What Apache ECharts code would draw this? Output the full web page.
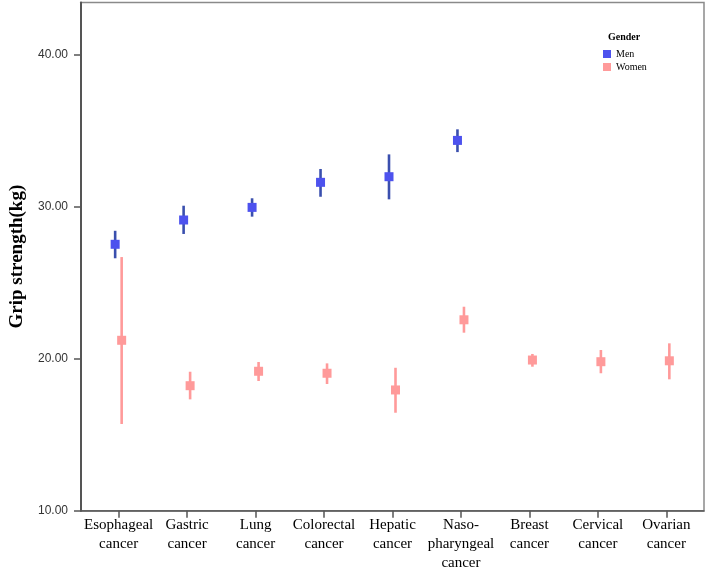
<!DOCTYPE html>
<html>
<head>
<meta charset="utf-8">
<script src="https://cdn.jsdelivr.net/npm/echarts@6/dist/echarts.min.js"></script>
<style>html,body{margin:0;padding:0;background:#fff}#c{width:709px;height:576px}</style>
</head>
<body>
<div id="c"></div>
<script>
// ---- data ----
var categories = ["Esophageal\ncancer", "Gastric\ncancer", "Lung\ncancer", "Colorectal\ncancer", "Hepatic\ncancer", "Naso-\npharyngeal\ncancer", "Breast\ncancer", "Cervical\ncancer", "Ovarian\ncancer"];
var menMean = [27.54, 29.14, 29.97, 31.62, 31.99, 34.38, null, null, null];
var menLow  = [26.62, 28.22, 29.36, 30.67, 30.50, 33.61, null, null, null];
var menHigh = [28.43, 30.08, 30.57, 32.50, 33.46, 35.11, null, null, null];
var womenMean = [21.22, 18.23, 19.18, 19.05, 17.95, 22.57, 19.92, 19.81, 19.87];
var womenLow  = [15.71, 17.33, 18.54, 18.34, 16.45, 21.72, 19.48, 19.05, 18.65];
var womenHigh = [26.70, 19.15, 19.79, 19.70, 19.41, 23.43, 20.32, 20.58, 21.02];
var yTicks = [10, 20, 30, 40];

function build(mean, low, high) {
  var out = [];
  for (var i = 0; i < mean.length; i++) {
    if (mean[i] == null) continue;
    out.push([i, mean[i], low[i], high[i]]);
  }
  return out;
}

function makeRender(dx, markColor, lineColor) {
  return function (params, api) {
    var i = api.value(0);
    var p = api.coord([i, api.value(1)]);
    var lo = api.coord([i, api.value(2)]);
    var hi = api.coord([i, api.value(3)]);
    var x = p[0] + dx;
    return {
      type: 'group',
      children: [
        { type: 'line', shape: { x1: x, y1: hi[1], x2: x, y2: lo[1] },
          style: { stroke: lineColor, lineWidth: 2.6 } },
        { type: 'rect', shape: { x: x - 4.5, y: p[1] - 4.5, width: 9, height: 9 },
          style: { fill: markColor } }
      ]
    };
  };
}

var tickIdx = categories.map(function (_, i) { return i; });
var chart = echarts.init(document.getElementById('c'), null, { renderer: 'canvas' });
chart.setOption({
  animation: false,
  backgroundColor: '#fff',
  grid: { left: 81, right: 5, top: 2.5, bottom: 65.3, show: true, borderColor: '#8a8a8a', borderWidth: 1.5, containLabel: false },
  title: { text: 'Gender', left: 603, top: 27, textStyle: { fontFamily: 'Liberation Serif', fontWeight: 'bold', fontSize: 10, color: '#000' } },
  legend: {
    orient: 'vertical', left: 598, top: 44, itemGap: 3, itemWidth: 8, itemHeight: 8, icon: 'rect',
    textStyle: { fontFamily: 'Liberation Serif', fontSize: 10, color: '#000' },
    data: ['Men', 'Women']
  },
  xAxis: {
    type: 'value', min: -0.55, max: 8.55,
    splitLine: { show: false },
    axisLine: { show: true, onZero: false, lineStyle: { color: '#555', width: 1.5 } },
    axisTick: { show: true, length: 7, customValues: tickIdx, lineStyle: { color: '#555', width: 1.5 } },
    axisLabel: {
      customValues: tickIdx, margin: 5,
      formatter: function (v) { return categories[Math.round(v)] || ''; },
      fontFamily: 'Liberation Serif', fontSize: 15, lineHeight: 19, color: '#000'
    }
  },
  yAxis: {
    type: 'value', min: 10, max: 43.46,
    name: 'Grip strength(kg)', nameLocation: 'middle', nameGap: 52,
    nameTextStyle: { fontFamily: 'Liberation Serif', fontWeight: 'bold', fontSize: 19, color: '#000' },
    splitLine: { show: false },
    axisLine: { show: true, onZero: false, lineStyle: { color: '#555', width: 2 } },
    axisTick: { show: true, length: 7, customValues: yTicks, lineStyle: { color: '#555', width: 1.5 } },
    axisLabel: {
      customValues: yTicks, margin: 13,
      formatter: function (v) { return v.toFixed(2); },
      fontFamily: 'Liberation Sans', fontSize: 12, color: '#333'
    }
  },
  series: [
    { name: 'Men', type: 'custom', itemStyle: { color: '#4d52ee' },
      renderItem: makeRender(-3.5, '#4d52ee', '#3a4fae'),
      encode: { x: 0, y: [1, 2, 3] },
      data: build(menMean, menLow, menHigh) },
    { name: 'Women', type: 'custom', itemStyle: { color: '#ff9a9a' },
      renderItem: makeRender(3, '#ff9a9a', '#ff9a9a'),
      encode: { x: 0, y: [1, 2, 3] },
      data: build(womenMean, womenLow, womenHigh) }
  ]
});
</script>
</body>
</html>
